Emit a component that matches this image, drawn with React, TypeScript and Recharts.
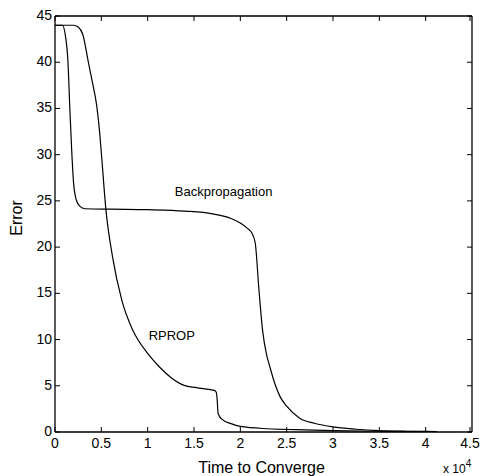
import { LineChart, Line, XAxis, YAxis, ReferenceDot } from "recharts";

// time to converge, in units of 10^4
const backpropX = [0, 0.08, 0.11, 0.14, 0.16, 0.18, 0.2, 0.23, 0.27, 0.32, 0.6, 1.0, 1.4, 1.7, 1.9, 2.0, 2.08, 2.12, 2.16, 2.2, 2.24, 2.28, 2.32, 2.37, 2.43, 2.5, 2.64, 2.8, 3.0, 3.25, 3.5, 3.8, 4.12];
const backpropErr = [44, 44, 43, 40, 35, 30.5, 27, 25.1, 24.4, 24.15, 24.1, 24.05, 23.9, 23.6, 23.1, 22.6, 22.0, 21.6, 20.5, 15.5, 11, 8.5, 7.0, 5.3, 3.8, 2.8, 1.5, 0.95, 0.55, 0.3, 0.15, 0.08, 0.05];

const rpropX = [0, 0.2, 0.25, 0.3, 0.36, 0.4, 0.45, 0.48, 0.5, 0.55, 0.62, 0.72, 0.84, 1.0, 1.13, 1.25, 1.38, 1.55, 1.72, 1.74, 1.75, 1.76, 1.8, 1.9, 2.0, 2.3, 2.6, 3.0, 3.5, 4.1];
const rpropErr = [44, 44, 43.8, 43, 40, 38, 35.3, 32.6, 30.2, 24, 19, 14.3, 11, 8.5, 7.0, 5.9, 5.1, 4.75, 4.5, 4.3, 3.5, 2.0, 1.4, 0.9, 0.6, 0.35, 0.25, 0.15, 0.08, 0.05];

const xTicks = [0, 0.5, 1, 1.5, 2, 2.5, 3, 3.5, 4, 4.5];
const yTicks = [0, 5, 10, 15, 20, 25, 30, 35, 40, 45];

const backprop = backpropX.map((x, i) => ({ x, y: backpropErr[i] }));
const rprop = rpropX.map((x, i) => ({ x, y: rpropErr[i] }));

const FONT = "'Liberation Sans', Arial, Helvetica, sans-serif";

// MATLAB-style ticks: pointing into the plot box
const BottomTick = (props: any) => {
  const { x, y, payload } = props;
  return (
    <g>
      <path d={`M${x},${y}v-5`} stroke="#000" strokeWidth={1} />
      <text x={x} y={y + 16} textAnchor="middle" fontSize={14} fontFamily={FONT} fill="#000">
        {payload.value}
      </text>
    </g>
  );
};

const TopTick = (props: any) => {
  const { x, y } = props;
  return <path d={`M${x},${y}v5`} stroke="#000" strokeWidth={1} />;
};

const LeftTick = (props: any) => {
  const { x, y, payload } = props;
  return (
    <g>
      <path d={`M${x},${y}h5`} stroke="#000" strokeWidth={1} />
      <text x={x - 3} y={y + 4} textAnchor="end" fontSize={14} fontFamily={FONT} fill="#000">
        {payload.value}
      </text>
    </g>
  );
};

const RightTick = (props: any) => {
  const { x, y } = props;
  return <path d={`M${x},${y}h-5`} stroke="#000" strokeWidth={1} />;
};

const axisStroke = { stroke: "#000", strokeWidth: 1.3 };

export default function App() {
  return (
    <div style={{ position: "absolute", left: 0, top: 0, width: 480, height: 476, background: "#fff" }}>
      <LineChart width={480} height={476} margin={{ top: 15, right: 7, bottom: 0, left: 0 }}>
        <XAxis
          xAxisId="b"
          dataKey="x"
          type="number"
          domain={[0, 4.5]}
          ticks={xTicks}
          allowDataOverflow
          height={44}
          tickSize={0}
          tickMargin={0}
          axisLine={axisStroke}
          tick={BottomTick}
          label={{
            content: (p: any) => (
              <text
                x={p.viewBox.x + p.viewBox.width / 2 - 2}
                y={p.viewBox.y + 41}
                textAnchor="middle"
                fontSize={16}
                fontFamily={FONT}
                fill="#000"
              >
                Time to Converge
              </text>
            ),
          }}
        />
        <XAxis
          xAxisId="t"
          dataKey="x"
          orientation="top"
          type="number"
          domain={[0, 4.5]}
          ticks={xTicks}
          allowDataOverflow
          height={1}
          tickSize={0}
          tickMargin={0}
          axisLine={axisStroke}
          tick={TopTick}
        />
        <YAxis
          yAxisId="l"
          type="number"
          domain={[0, 45]}
          ticks={yTicks}
          allowDataOverflow
          width={55}
          tickSize={0}
          tickMargin={0}
          axisLine={axisStroke}
          tick={LeftTick}
          label={{
            content: (p: any) => {
              const cx = 16;
              const cy = p.viewBox.y + p.viewBox.height / 2 - 6;
              return (
                <text
                  x={cx}
                  y={cy}
                  transform={`rotate(-90 ${cx} ${cy})`}
                  textAnchor="middle"
                  dominantBaseline="central"
                  fontSize={16}
                  fontFamily={FONT}
                  fill="#000"
                >
                  Error
                </text>
              );
            },
          }}
        />
        <YAxis
          yAxisId="r"
          orientation="right"
          type="number"
          domain={[0, 45]}
          ticks={yTicks}
          allowDataOverflow
          width={1}
          tickSize={0}
          tickMargin={0}
          axisLine={axisStroke}
          tick={RightTick}
        />
        {/* hidden series bound to the top and right axes so the box closes */}
        <Line
          xAxisId="t"
          yAxisId="r"
          data={backprop}
          dataKey="y"
          stroke="none"
          dot={false}
          activeDot={false}
          isAnimationActive={false}
        />
        <Line
          xAxisId="b"
          yAxisId="l"
          data={backprop}
          dataKey="y"
          type="monotone"
          stroke="#000"
          strokeWidth={1.2}
          dot={false}
          isAnimationActive={false}
        />
        <Line
          xAxisId="b"
          yAxisId="l"
          data={rprop}
          dataKey="y"
          type="monotone"
          stroke="#000"
          strokeWidth={1.2}
          dot={false}
          isAnimationActive={false}
        />
        <ReferenceDot
          xAxisId="b"
          yAxisId="l"
          x={1.82}
          y={26}
          r={0}
          label={{ value: "Backpropagation", position: "center", fontSize: 13, fontFamily: FONT, fill: "#000" }}
        />
        <ReferenceDot
          xAxisId="b"
          yAxisId="l"
          x={1.26}
          y={10.5}
          r={0}
          label={{ value: "RPROP", position: "center", fontSize: 13, fontFamily: FONT, fill: "#000" }}
        />
      </LineChart>
      <div
        style={{
          position: "absolute",
          left: 443,
          top: 462,
          fontFamily: FONT,
          fontSize: 12,
          lineHeight: "14px",
          whiteSpace: "nowrap",
          color: "#000",
        }}
      >
        x 10<sup style={{ fontSize: 10, verticalAlign: "6px", lineHeight: 0 }}>4</sup>
      </div>
    </div>
  );
}
